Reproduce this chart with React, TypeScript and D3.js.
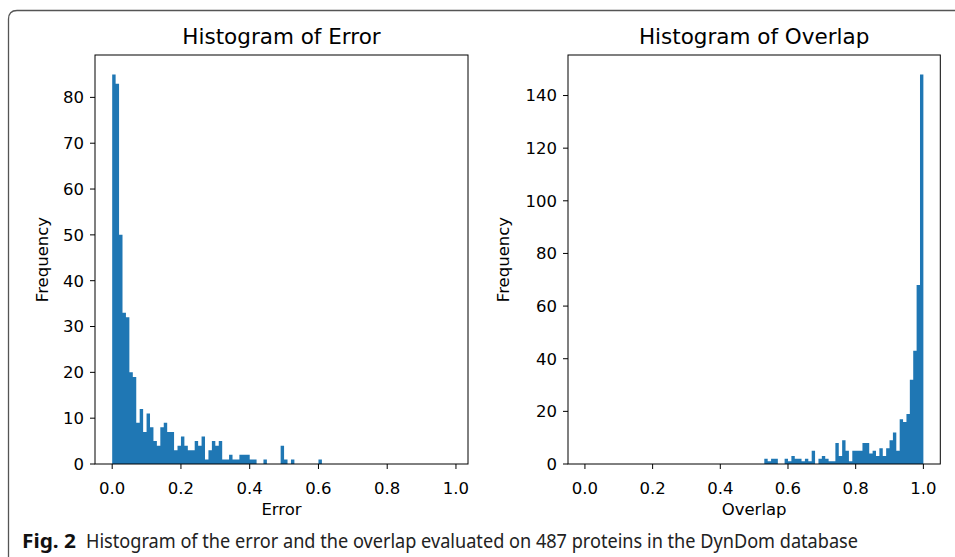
import React from "react";
import * as d3 from "d3";

const binWidth = 0.01;
// Histogram of Error: counts for bins starting at 0.00, width 0.01
const errorCounts = [
  85, 83, 50, 33, 32, 20, 19, 9, 12, 7, 11, 8, 5, 4, 8, 9, 7, 7, 3, 4, 6, 4, 3, 3, 5, 4, 6, 1, 3, 5, 4, 5,
  1, 1, 2, 1, 1, 2, 2, 2, 1, 1, 0, 0, 1, 0, 0, 0, 0, 4, 1, 0, 1, 0, 0, 0, 0, 0, 0, 0, 1,
];
const errorStartBin = 0;
// Histogram of Overlap: counts for bins starting at 0.53
const overlapCounts = [
  2, 1, 2, 2, 0, 0, 2, 1, 3, 2, 2, 1, 2, 1, 5, 0, 2, 3, 2, 1, 1, 8, 3, 9, 5, 1, 5, 5, 5, 8, 8, 4, 5, 3, 6, 3,
  6, 9, 12, 5, 17, 16, 19, 32, 43, 68, 148,
];
const overlapStartBin = 53;

const xTicks = [0, 0.2, 0.4, 0.6, 0.8, 1.0];
const errorYTicks = [0, 10, 20, 30, 40, 50, 60, 70, 80];
const overlapYTicks = [0, 20, 40, 60, 80, 100, 120, 140];

const FONT = "DejaVu Sans";
const BAR = "#1f77b4";

type PanelProps = {
  title: string;
  xLabel: string;
  counts: number[];
  startBin: number;
  xDomain: [number, number];
  xPx: [number, number];
  yTicks: number[];
  yLabelX: number;
};

function Panel({ title, xLabel, counts, startBin, xDomain, xPx, yTicks, yLabelX }: PanelProps) {
  const top = 55;
  const bottom = 464;
  const yMax = d3.max(counts)! * 1.05;
  const x = d3.scaleLinear().domain(xDomain).range(xPx);
  const y = d3.scaleLinear().domain([0, yMax]).range([bottom, top]);

  const pts: [number, number][] = counts.map((c, i) => [(startBin + i) * binWidth, c]);
  pts.push([(startBin + counts.length) * binWidth, counts[counts.length - 1]]);
  const area = d3
    .area<[number, number]>()
    .x((d) => x(d[0]))
    .y0(y(0))
    .y1((d) => y(d[1]))
    .curve(d3.curveStepAfter);

  const cx = (xPx[0] + xPx[1]) / 2;
  return (
    <g>
      <path d={area(pts) || ""} fill={BAR} />
      <rect x={xPx[0]} y={top} width={xPx[1] - xPx[0]} height={bottom - top} fill="none" stroke="#000" strokeWidth={1} />
      {xTicks.map((t) => (
        <g key={"x" + t}>
          <line x1={x(t)} x2={x(t)} y1={bottom} y2={bottom + 5} stroke="#000" strokeWidth={1} />
          <text x={x(t)} y={bottom + 30} textAnchor="middle" fontFamily={FONT} fontSize={16.5} fill="#000">
            {d3.format(".1f")(t)}
          </text>
        </g>
      ))}
      {yTicks.map((t) => (
        <g key={"y" + t}>
          <line x1={xPx[0] - 5} x2={xPx[0]} y1={y(t)} y2={y(t)} stroke="#000" strokeWidth={1} />
          <text x={xPx[0] - 11} y={y(t)} dy="0.36em" textAnchor="end" fontFamily={FONT} fontSize={16.5} fill="#000">
            {t}
          </text>
        </g>
      ))}
      <text x={cx} y={44} textAnchor="middle" fontFamily={FONT} fontSize={21.5} fill="#000">
        {title}
      </text>
      <text x={cx} y={515} textAnchor="middle" fontFamily={FONT} fontSize={16.5} fill="#000">
        {xLabel}
      </text>
      <text
        transform={`translate(${yLabelX},${(top + bottom) / 2}) rotate(-90)`}
        textAnchor="middle"
        dy="0.36em"
        fontFamily={FONT}
        fontSize={16.5}
        fill="#000"
      >
        Frequency
      </text>
    </g>
  );
}

export default function App() {
  return (
    <svg width={955} height={557} style={{ position: "absolute", left: 0, top: 0, background: "#fff" }}>
      <rect x={0} y={0} width={955} height={557} fill="#fff" />
      <path d="M8.5,557 L8.5,19 Q8.5,10.5 17,10.5 L955,10.5" fill="none" stroke="#555" strokeWidth={1.3} />
      <Panel
        title="Histogram of Error"
        xLabel="Error"
        counts={errorCounts}
        startBin={errorStartBin}
        xDomain={[-0.05, 1.035]}
        xPx={[95, 468]}
        yTicks={errorYTicks}
        yLabelX={42}
      />
      <Panel
        title="Histogram of Overlap"
        xLabel="Overlap"
        counts={overlapCounts}
        startBin={overlapStartBin}
        xDomain={[-0.05, 1.05]}
        xPx={[568, 940.3]}
        yTicks={overlapYTicks}
        yLabelX={503}
      />
      <text x={22} y={548} fontFamily="Noto Sans" fontSize={19} fontWeight="bold" fill="#111" textLength={54} lengthAdjust="spacingAndGlyphs">
        Fig. 2
      </text>
      <text x={86} y={548} fontFamily="Noto Sans" fontSize={19} fill="#222" textLength={772} lengthAdjust="spacingAndGlyphs">
        Histogram of the error and the overlap evaluated on 487 proteins in the DynDom database
      </text>
    </svg>
  );
}
